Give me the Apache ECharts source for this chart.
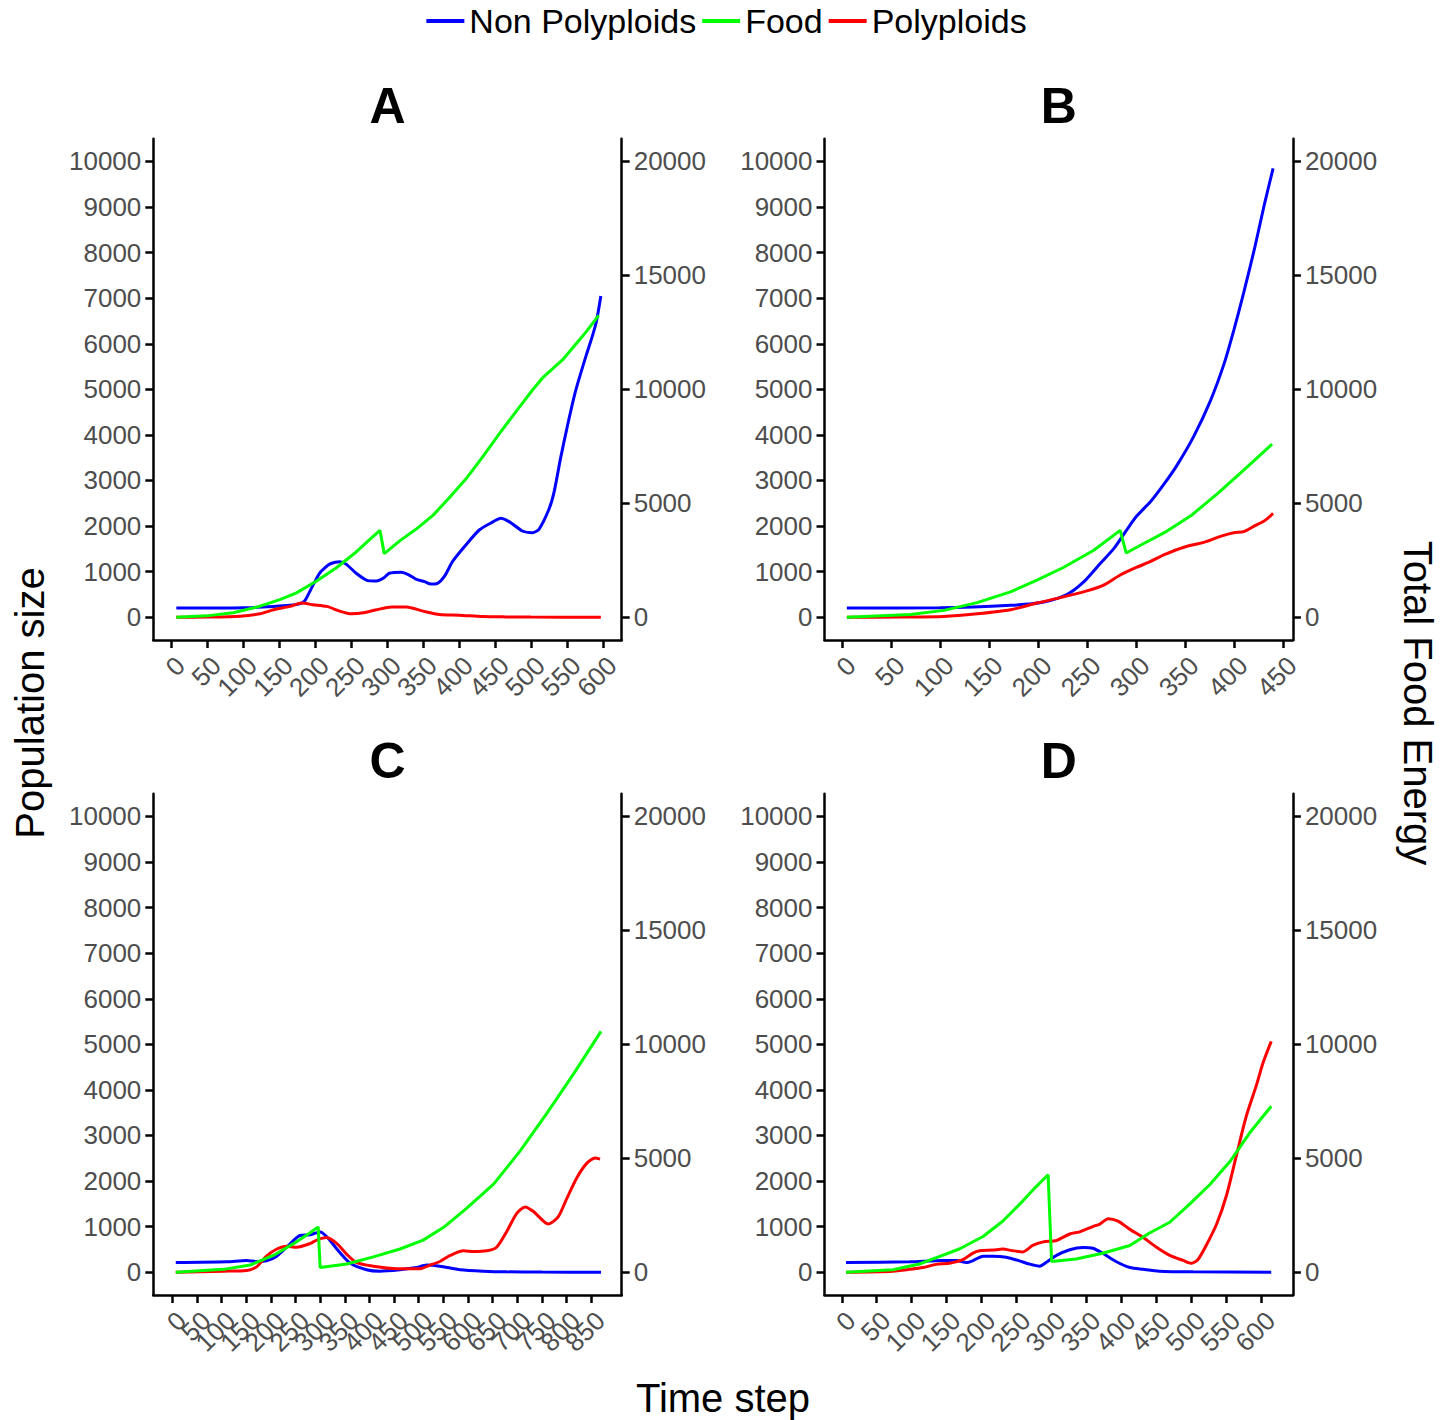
<!DOCTYPE html>
<html><head><meta charset="utf-8">
<script src="https://cdn.jsdelivr.net/npm/echarts@6/dist/echarts.min.js"></script>
<style>html,body{margin:0;padding:0;background:#fff}#c{width:1453px;height:1420px}</style>
</head><body><div id="c"></div><script>
// ---------- DATA (time step, value) ----------
const seriesNames = ['Non Polyploids', 'Food', 'Polyploids'];
const panelLabels = ['A', 'B', 'C', 'D'];

const A_non = [[7,200],[50,200],[100,205],[142,235],[165,260],[179,297],[186,371],[197,705],[206,964],[213,1076],[220,1165],[228,1205],[234,1217],[243,1165],[257,964],[271,816],[285,794],[295,860],[303,964],[320,987],[330,930],[340,838],[352,780],[361,727],[370,742],[380,905],[391,1224],[410,1595],[428,1914],[447,2092],[458,2173],[470,2092],[488,1892],[502,1855],[511,1929],[525,2374],[532,2745],[541,3486],[551,4228],[562,4970],[576,5712],[585,6157],[591,6500],[597,7047]];
const A_food = [[7,0],[49,59],[86,193],[119,445],[151,771],[174,1068],[202,1587],[230,2181],[257,2863],[276,3412],[290,3813],[296,2789],[317,3338],[340,3857],[364,4480],[387,5267],[410,6083],[433,7047],[456,8056],[479,9020],[502,9970],[516,10500],[544,11300],[560,11900],[576,12500],[594,13250]];
const A_poly = [[7,0],[50,3],[96,22],[123,74],[142,163],[165,237],[181,311],[197,274],[216,237],[234,133],[250,74],[267,96],[285,163],[306,222],[327,222],[350,133],[373,59],[400,45],[433,15],[465,7],[500,3],[597,0]];

const B_non = [[5,200],[100,205],[172,260],[206,334],[230,504],[247,779],[264,1187],[278,1521],[291,1929],[301,2225],[315,2537],[329,2930],[342,3338],[359,3969],[376,4748],[390,5564],[400,6305],[410,7121],[421,8086],[431,9050],[440,9851]];
const B_food = [[5,0],[70,119],[104,300],[138,640],[172,1110],[199,1632],[226,2181],[257,2938],[284,3813],[290,2819],[308,3234],[329,3709],[356,4451],[383,5415],[410,6454],[439,7596]];
const B_poly = [[5,0],[60,3],[104,15],[138,74],[172,163],[199,311],[223,430],[250,579],[267,705],[284,927],[301,1098],[315,1224],[329,1372],[349,1536],[370,1647],[387,1780],[400,1855],[410,1877],[421,2003],[431,2114],[440,2277]];

const C_non = [[7,211],[110,227],[151,258],[171,235],[191,250],[212,352],[232,548],[259,806],[279,822],[300,885],[313,783],[340,431],[361,196],[394,55],[421,23],[462,55],[496,102],[516,157],[543,133],[584,55],[631,23],[679,8],[750,2],[870,0]];
const C_food = [[7,0],[104,125],[158,313],[205,736],[246,1253],[279,1723],[296,1989],[300,204],[354,360],[408,673],[462,1018],[509,1409],[550,1958],[597,2800],[652,3868],[706,5324],[760,6969],[814,8691],[870,10571]];
const C_poly = [[7,0],[104,23],[151,39],[171,117],[191,352],[212,509],[232,571],[252,548],[279,626],[293,705],[313,760],[334,626],[354,392],[374,211],[408,133],[455,78],[503,78],[523,157],[543,235],[564,368],[591,470],[611,454],[638,470],[658,548],[679,900],[699,1292],[716,1433],[733,1331],[763,1057],[783,1214],[800,1605],[821,2075],[841,2388],[858,2506],[868,2482]];

const D_non = [[6,211],[97,227],[144,258],[164,258],[178,211],[187,250],[202,352],[216,352],[235,329],[254,250],[268,180],[283,133],[292,211],[307,368],[326,493],[345,540],[359,525],[373,415],[392,235],[412,102],[431,63],[454,23],[502,8],[614,0]];
const D_food = [[6,0],[73,110],[111,360],[144,736],[168,1018],[202,1566],[230,2239],[259,3132],[278,3758],[295,4275],[300,470],[335,579],[373,830],[412,1175],[440,1723],[469,2192],[497,2975],[526,3837],[555,4855],[583,6107],[614,7282]];
const D_poly = [[6,0],[73,23],[97,63],[116,102],[135,172],[154,196],[173,274],[187,415],[197,470],[216,485],[230,509],[245,470],[259,446],[273,587],[288,666],[307,697],[326,838],[340,885],[359,1002],[369,1057],[381,1175],[395,1120],[412,940],[431,760],[450,548],[469,368],[488,258],[500,196],[509,274],[521,587],[536,1057],[550,1683],[564,2545],[578,3406],[593,4111],[602,4581],[614,5066]];

// tick labels
const yTicksLeft = [0,1000,2000,3000,4000,5000,6000,7000,8000,9000,10000];
const yTicksRight = [0,5000,10000,15000,20000];
const xTicksA = [0,50,100,150,200,250,300,350,400,450,500,550,600];
const xTicksB = [0,50,100,150,200,250,300,350,400,450];
const xTicksC = [0,50,100,150,200,250,300,350,400,450,500,550,600,650,700,750,800,850];
const xTicksD = [0,50,100,150,200,250,300,350,400,450,500,550,600];

// ---------- LAYOUT / STYLE ----------
const FONT = '"Liberation Sans", Arial, Helvetica, sans-serif';
const COLORS = {'Non Polyploids':'#0000ff','Food':'#00ff00','Polyploids':'#ff0000'};
const panels = [
  {non:A_non, food:A_food, poly:A_poly, ticks:xTicksA, groups:2, xmin:-25, xmax:626, left:153.3, top:138.7},
  {non:B_non, food:B_food, poly:B_poly, ticks:xTicksB, groups:2, xmin:-17.8, xmax:460.2, left:824.5, top:138.7},
  {non:C_non, food:C_food, poly:C_poly, ticks:xTicksC, groups:3, xmin:-38.6, xmax:912, left:153.3, top:793.7},
  {non:D_non, food:D_food, poly:D_poly, ticks:xTicksD, groups:2, xmin:-24.7, xmax:645, left:824.5, top:793.7}
];
const W = 468.4, H = 501.3;
const axLine = {show:true, onZero:false, lineStyle:{color:'#000', width:2.5}};
const plain = v => String(v);
const lblStyle = {color:'#4d4d4d', fontFamily:FONT, formatter:plain, hideOverlap:false};

const grid = [], xAxis = [], yAxis = [], series = [], graphic = [];
panels.forEach((p, i) => {
  grid.push({left:p.left, top:p.top, width:W, height:H, containLabel:false});
  const mainX = xAxis.length;
  // label sets: split densely packed labels over several co-located axes so none are dropped
  for (let g = 0; g < p.groups; g++) {
    const lbls = p.ticks.filter((_, k) => k % p.groups === g);
    xAxis.push({gridIndex:i, type:'value', min:p.xmin, max:p.xmax, position:'bottom', offset:0,
      axisLine:g === 0 ? axLine : {show:false, onZero:false},
      axisTick:{show:g === 0, length:8, customValues:p.ticks, lineStyle:{color:'#000', width:2.5}},
      axisLabel:Object.assign({customValues:lbls, rotate:45, margin:12, fontSize:26, verticalAlign:'top'}, lblStyle),
      splitLine:{show:false}});
  }
  yAxis.push({gridIndex:i, type:'value', position:'left', min:-500, max:10500,
    axisLine:axLine,
    axisTick:{show:true, length:8, customValues:yTicksLeft, lineStyle:{color:'#000', width:2.5}},
    axisLabel:Object.assign({customValues:yTicksLeft, margin:12, fontSize:26}, lblStyle),
    splitLine:{show:false}});
  yAxis.push({gridIndex:i, type:'value', position:'right', min:-1000, max:21000,
    axisLine:axLine,
    axisTick:{show:true, length:8, customValues:yTicksRight, lineStyle:{color:'#000', width:2.5}},
    axisLabel:Object.assign({customValues:yTicksRight, margin:12, fontSize:26}, lblStyle),
    splitLine:{show:false}});
  const mk = (name, data, yIdx, smooth, z) => ({
    type:'line', name, data, xAxisIndex:mainX, yAxisIndex:yIdx, showSymbol:false, symbol:'none',
    smooth, z, lineStyle:{color:COLORS[name], width:3}, itemStyle:{color:COLORS[name]}, animation:false
  });
  series.push(mk('Non Polyploids', p.non, 2*i, 0.25, 2));
  series.push(mk('Polyploids', p.poly, 2*i, 0.25, 3));
  series.push(mk('Food', p.food, 2*i+1, false, 4));
  graphic.push({type:'text', x:p.left + W/2, y:p.top - 33,
    style:{text:panelLabels[i], fontSize:50, fontWeight:'bold', fontFamily:FONT, fill:'#000',
      textAlign:'center', textVerticalAlign:'middle'}});
});
graphic.push({type:'text', x:30, y:703, rotation:Math.PI/2,
  style:{text:'Population size', fontSize:40, fontFamily:FONT, fill:'#000', textAlign:'center', textVerticalAlign:'middle'}});
graphic.push({type:'text', x:1418, y:703, rotation:-Math.PI/2,
  style:{text:'Total Food Energy', fontSize:40, fontFamily:FONT, fill:'#000', textAlign:'center', textVerticalAlign:'middle'}});
graphic.push({type:'text', x:723, y:1398,
  style:{text:'Time step', fontSize:40, fontFamily:FONT, fill:'#000', textAlign:'center', textVerticalAlign:'middle'}});

const chart = echarts.init(document.getElementById('c'), null, {renderer:'svg'});
chart.setOption({
  backgroundColor:'#fff',
  animation:false,
  legend:{data:seriesNames, top:-1, left:'center', itemGap:6, itemWidth:38, itemHeight:4, icon:'rect',
    textStyle:{fontSize:34, fontFamily:FONT, color:'#000'}},
  grid, xAxis, yAxis, series, graphic
});
</script></body></html>
